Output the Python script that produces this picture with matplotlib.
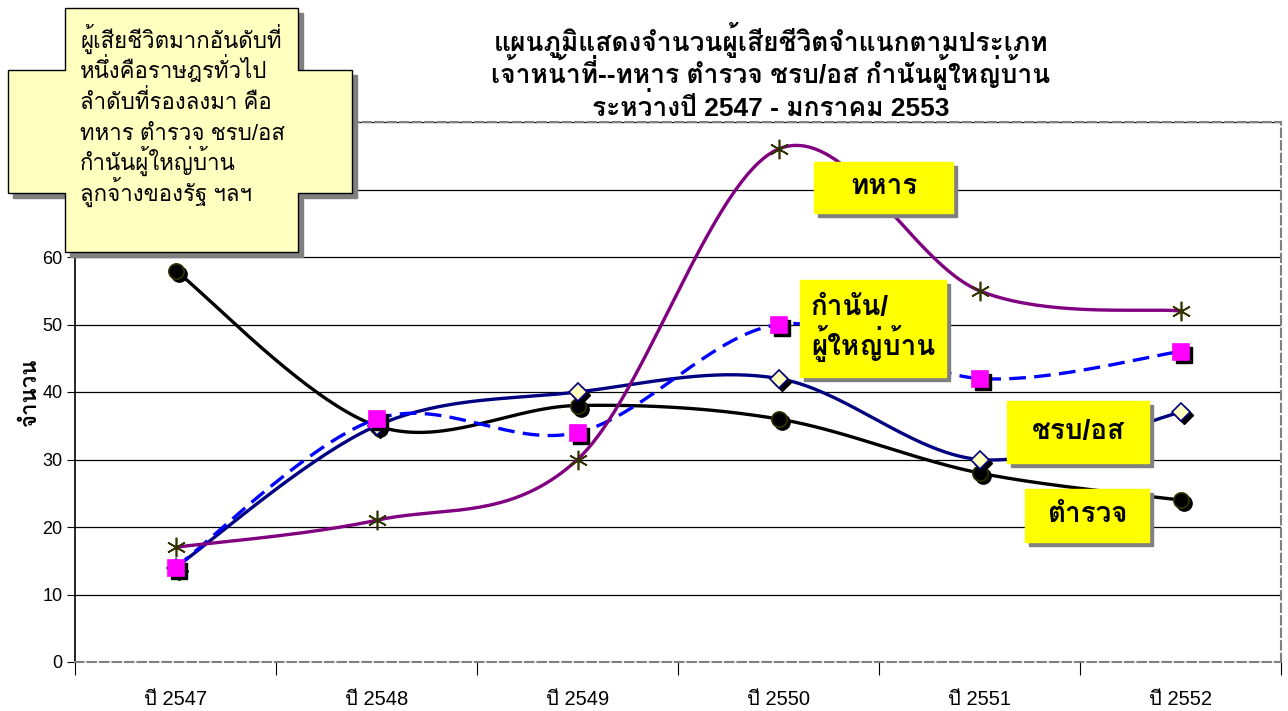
import numpy as np
import matplotlib
matplotlib.use("Agg")
import matplotlib.pyplot as plt
from matplotlib.patches import Rectangle, Polygon
from matplotlib.transforms import offset_copy

plt.rcParams['font.family'] = ['Liberation Sans', 'Loma', 'DejaVu Sans']

# data
years = ['ปี 2547', 'ปี 2548', 'ปี 2549', 'ปี 2550', 'ปี 2551', 'ปี 2552']
police = [58, 35, 38, 36, 28, 24]        # ตำรวจ
soldier = [17, 21, 30, 76, 55, 52]       # ทหาร
volunteer = [14, 35, 40, 42, 30, 37]     # ชรบ/อส
headman = [14, 36, 34, 50, 42, 46]       # กำนัน/ผู้ใหญ่บ้าน

title_lines = ['แผนภูมิแสดงจำนวนผู้เสียชีวิตจำแนกตามประเภท',
               'เจ้าหน้าที่--ทหาร ตำรวจ ชรบ/อส กำนันผู้ใหญ่บ้าน',
               'ระหว่างปี 2547 - มกราคม 2553']
note_lines = ['ผู้เสียชีวิตมากอันดับที่', 'หนึ่งคือราษฎรทั่วไป', 'ลำดับที่รองลงมา คือ',
              'ทหาร ตำรวจ ชรบ/อส', 'กำนันผู้ใหญ่บ้าน', 'ลูกจ้างของรัฐ ฯลฯ']

W, H = 1288, 711


def fx(px):
    return px / W


def fy(py):
    return 1 - py / H


def smooth(ys, n=40):
    # Excel-like smoothed line (Catmull-Rom bezier through the points)
    xs = np.arange(len(ys), dtype=float)
    ys = np.asarray(ys, dtype=float)
    px = np.concatenate([[xs[0]], xs, [xs[-1]]])
    py = np.concatenate([[ys[0]], ys, [ys[-1]]])
    out_x, out_y = [], []
    t = np.linspace(0, 1, n)
    for i in range(1, len(px) - 2):
        p0 = np.array([px[i], py[i]])
        p3 = np.array([px[i + 1], py[i + 1]])
        c1 = p0 + (np.array([px[i + 1], py[i + 1]]) - np.array([px[i - 1], py[i - 1]])) / 6
        c2 = p3 - (np.array([px[i + 2], py[i + 2]]) - np.array([px[i], py[i]])) / 6
        b = ((1 - t) ** 3)[:, None] * p0 + (3 * (1 - t) ** 2 * t)[:, None] * c1 \
            + (3 * (1 - t) * t ** 2)[:, None] * c2 + (t ** 3)[:, None] * p3
        out_x.extend(b[:, 0])
        out_y.extend(b[:, 1])
    return out_x, out_y


fig = plt.figure(figsize=(12.88, 7.11), dpi=100)
ax = fig.add_axes([fx(75), fy(662), fx(1281) - fx(75), fy(122) - fy(662)])

x = np.arange(len(years))
shadow = offset_copy(ax.transData, fig=fig, x=3, y=-3, units='dots')

series = [
    (police, 'black', '-', 'o', 'black', '#333300', 11),
    (volunteer, '#000080', '-', 'D', '#FFFFC0', '#000080', 9),
    (headman, '#0000FF', (0, (5, 2.5)), 's', '#FF00FF', '#FF00FF', 11),
    (soldier, '#800080', '-', (6, 2, 0), 'none', '#333300', 14),
]
for i, (vals, col, ls, mk, face, edge, ms) in enumerate(series):
    sx, sy = smooth(vals)
    ax.plot(sx, sy, color=col, lw=2.4, ls=ls, zorder=3 + i, solid_capstyle='butt')
    if mk != (6, 2, 0):
        ax.plot(x, vals, ls='none', marker=mk, ms=ms, mfc='black', mec='black',
                transform=shadow, zorder=3 + i)
    ax.plot(x, vals, ls='none', marker=mk, ms=ms, mfc=face, mec=edge, mew=1.2, zorder=3 + i)

ax.set_xlim(-0.5, len(years) - 0.5)
ax.set_ylim(0, 80)
ax.set_yticks(range(0, 81, 10))
ax.set_xticks(np.arange(-0.5, len(years), 1))
ax.set_xticklabels([])
ax.set_xticks(x, minor=True)
ax.set_xticklabels(years, minor=True, fontsize=14.5)
ax.tick_params(axis='x', which='minor', length=0, pad=20)
ax.tick_params(axis='x', which='major', length=9, direction='out', color='black')
ax.tick_params(axis='y', length=6, direction='out', labelsize=13, pad=3)
ax.yaxis.grid(True, color='black', lw=0.9)
ax.set_axisbelow(True)
for s in ['top', 'right', 'bottom']:
    ax.spines[s].set_linestyle((0, (4, 2)))
    ax.spines[s].set_color('#808080')
    ax.spines[s].set_linewidth(1.5)
ax.spines['left'].set_color('black')
ax.spines['left'].set_linewidth(1.2)

fig.text(fx(30), fy(392), 'จำนวน', rotation=90, ha='center', va='center',
         fontsize=16, fontweight='bold')
for i, line in enumerate(title_lines):
    fig.text(fx(771), fy(51 + 32.5 * i), line, ha='center', va='baseline', fontsize=19,
             fontweight='bold')

# yellow series labels
labels = [
    ('ทหาร', 814, 162, 953, 213),
    ('กำนัน/\nผู้ใหญ่บ้าน', 800, 280, 946, 377),
    ('ชรบ/อส', 1007, 401, 1149, 463),
    ('ตำรวจ', 1025, 489, 1149, 542),
]
for txt, x0, y0, x1, y1 in labels:
    fig.add_artist(Rectangle((fx(x0 + 4), fy(y1 + 4)), fx(x1 - x0), fy(y0) - fy(y1),
                             transform=fig.transFigure, color='#808080', zorder=10))
    fig.add_artist(Rectangle((fx(x0), fy(y1)), fx(x1 - x0), fy(y0) - fy(y1),
                             transform=fig.transFigure, color='#FFFF00', zorder=11))
    fig.text(fx((x0 + x1) / 2), fy((y0 + y1) / 2), txt, ha='center', va='center',
             fontsize=20, fontweight='bold', zorder=12, linespacing=1.15,
             multialignment='left')

# cross-shaped note box
pts = [(65, 8), (298, 8), (298, 70), (352, 70), (352, 193), (298, 193), (298, 252),
       (65, 252), (65, 193), (8, 193), (8, 70), (65, 70)]
fig.add_artist(Polygon([(fx(a + 5), fy(b + 5)) for a, b in pts], closed=True,
                       transform=fig.transFigure, color='#808080', zorder=10))
fig.add_artist(Polygon([(fx(a), fy(b)) for a, b in pts], closed=True,
                       transform=fig.transFigure, fc='#FFFFC0', ec='black', lw=1, zorder=11))
for i, line in enumerate(note_lines):
    fig.text(fx(80), fy(48 + 30.5 * i), line, ha='left', va='baseline', fontsize=16, zorder=12)

fig.savefig('out.png', dpi=100)
